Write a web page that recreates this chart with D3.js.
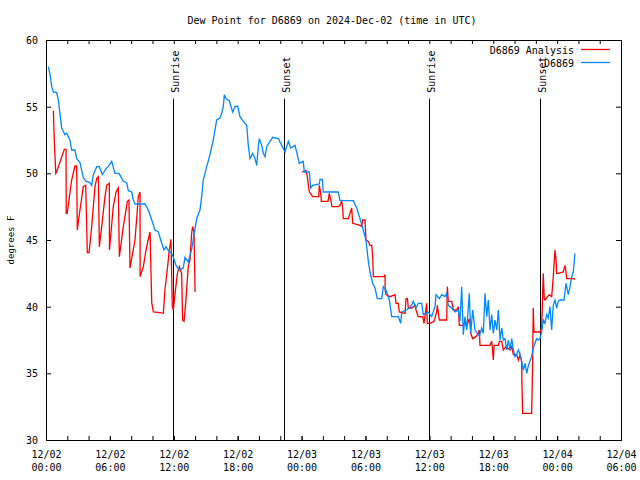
<!DOCTYPE html>
<html><head><meta charset="utf-8">
<script src="https://cdn.jsdelivr.net/npm/d3@7"></script>
<style>
html,body{margin:0;padding:0;background:#fff;}
text{font-family:"DejaVu Sans Mono",monospace;font-size:10px;fill:#000;}
</style></head>
<body><svg id="c" width="640" height="480"></svg>
<script>
// ---- data (hours since 2024-12-02 00:00 UTC) ----
const blueHours = [0.22,0.38,0.54,0.69,1.00,1.16,1.31,1.47,1.78,1.94,2.25,2.41,2.72,2.88,3.19,3.50,3.76,4.13,4.29,4.44,4.76,5.01,5.29,5.70,5.85,6.17,6.48,6.86,7.26,7.58,7.73,8.05,8.20,8.36,9.30,9.61,9.93,10.24,10.55,10.77,11.08,11.27,11.58,11.80,11.96,12.21,12.52,12.89,13.05,13.36,13.68,13.90,14.15,14.46,14.62,14.77,15.09,15.40,15.71,15.87,16.03,16.34,16.50,16.65,16.75,16.90,17.21,17.53,17.75,18.00,18.22,18.53,18.85,19.00,19.16,19.41,19.63,19.79,19.94,20.03,20.26,20.41,20.57,20.73,21.04,21.29,21.82,22.14,22.45,22.76,22.98,23.38,23.54,23.79,24.16,24.26,24.73,24.86,25.05,25.67,25.73,25.95,26.04,27.45,27.61,28.86,29.18,29.49,29.80,30.05,30.27,30.43,30.68,30.90,31.11,31.53,31.68,31.93,32.24,32.47,33.09,33.31,33.41,33.88,34.34,34.49,34.75,34.96,35.28,35.43,35.90,36.22,36.53,36.63,36.94,37.16,37.47,37.63,37.78,38.10,38.41,38.72,38.88,39.04,39.19,39.35,39.51,39.75,39.89,40.07,40.29,40.51,40.69,40.92,41.07,41.23,41.39,41.54,41.70,41.86,42.01,42.17,42.33,42.48,42.64,42.80,42.95,43.11,43.27,43.42,43.58,43.74,43.89,44.05,44.20,44.36,44.52,44.67,44.83,44.99,45.15,45.30,45.45,45.61,45.76,45.92,46.08,46.23,46.39,46.55,46.70,46.86,47.02,47.17,47.33,47.49,47.64,47.80,47.96,48.11,48.27,48.65,48.84,49.05,49.21,49.37,49.52,49.68];
const blueValues = [58.0,57.4,56.5,56.1,56.05,55.5,54.5,53.4,52.9,53.0,52.5,51.75,51.75,51.1,50.8,49.7,49.4,49.3,49.1,49.9,50.5,50.5,49.9,50.4,50.5,50.9,50.0,50.0,49.4,49.3,48.7,48.6,48.0,47.7,47.7,47.25,46.5,45.75,45.6,45.0,44.25,44.5,44.1,44.0,43.7,43.1,42.75,42.9,43.7,43.35,44.3,45.4,46.6,47.25,48.25,49.5,50.5,51.4,52.5,53.25,54.0,54.15,54.5,55.0,55.9,55.6,55.45,54.6,55.0,55.05,54.25,53.9,53.6,52.1,51.1,51.5,51.1,50.6,52.0,52.6,52.1,51.5,51.25,52.0,52.4,52.7,52.6,52.1,51.6,52.4,51.9,52.1,51.6,50.75,50.9,50.1,50.1,48.9,49.1,49.2,49.55,49.55,48.6,48.6,47.95,47.95,47.4,46.6,45.75,45.0,43.4,42.6,41.75,41.4,40.6,40.6,41.5,41.25,40.5,39.25,39.25,38.75,39.6,39.75,40.1,40.4,39.9,40.25,40.25,39.4,39.6,39.25,40.0,40.9,40.6,40.9,40.75,41.0,40.1,39.9,39.6,39.75,38.9,41.5,37.9,39.25,38.25,41.0,38.0,39.75,38.25,38.0,37.75,38.4,38.0,41.0,39.25,40.5,38.25,39.4,38.0,39.0,38.25,39.75,37.5,38.4,37.5,37.6,36.75,37.5,36.75,37.6,36.75,36.25,36.4,36.75,36.4,35.9,35.25,35.75,35.0,35.6,35.9,36.25,36.9,37.25,37.6,37.5,37.6,38.1,39.0,38.75,39.4,39.15,40.0,38.25,40.1,40.5,39.9,40.4,40.5,40.5,41.75,40.9,41.5,42.25,42.6,44.0];

const redHours = [0.69,0.79,0.92,1.00,1.72,1.84,1.88,1.90,1.99,2.41,2.72,2.88,2.94,3.19,3.50,3.73,3.88,4.04,4.29,4.60,4.76,4.92,5.01,5.23,5.54,5.70,5.95,5.96,6.32,6.58,6.79,6.89,7.26,7.64,7.79,7.89,8.36,8.67,8.83,8.84,9.14,9.45,9.77,9.93,10.08,10.70,11.02,11.17,11.42,11.58,11.74,11.86,11.96,12.12,12.34,12.52,12.74,12.83,12.96,13.12,13.36,13.52,13.68,13.77,13.90,14.00,
  19.0,
  24.04,24.42,24.54,24.73,25.05,25.61,25.67,25.80,25.86,26.48,26.61,26.77,26.86,27.45,27.61,27.77,27.86,27.92,28.39,28.71,28.80,29.49,29.65,29.74,29.96,30.05,30.27,30.43,30.59,30.68,30.74,31.74,31.84,31.85,31.93,32.31,32.78,32.87,33.09,33.18,33.72,33.81,33.94,34.03,34.34,34.66,34.75,34.96,35.38,35.50,35.59,35.75,35.81,36.07,36.44,36.69,36.75,36.94,37.63,37.69,37.78,38.10,38.26,38.57,38.72,38.82,39.19,39.35,39.51,39.75,39.82,39.89,40.07,40.38,40.60,40.69,40.76,41.70,41.86,41.95,42.01,42.08,42.48,42.58,42.80,42.95,43.20,43.58,43.74,43.89,44.20,44.36,44.52,44.67,44.70,44.77,45.61,45.70,45.76,45.83,46.39,46.55,46.70,46.79,46.86,47.11,47.27,47.49,47.64,47.80,47.90,47.96,48.11,48.58,48.74,48.84,48.90,49.21,49.52,49.68];
const redValues = [54.7,52.25,50.0,50.1,51.8,51.8,51.8,47.0,47.0,49.5,50.55,50.55,45.75,47.25,49.0,49.1,44.05,44.05,46.0,49.0,49.6,49.75,44.5,46.0,48.25,49.1,49.25,44.25,47.5,48.6,48.9,43.75,46.0,47.9,48.0,42.9,45.0,48.25,48.6,42.25,43.0,44.5,45.6,40.3,39.6,39.55,39.5,41.25,43.0,44.25,45.05,40.0,39.75,41.0,42.5,43.0,42.5,39.0,38.9,40.25,43.0,43.5,45.5,46.0,45.6,41.1,
  null,
  50.1,50.2,49.75,48.6,48.25,48.25,49.1,48.5,47.9,47.9,48.5,47.9,47.5,47.5,47.6,47.9,47.4,46.6,46.6,47.4,46.25,46.1,46.0,46.5,46.5,45.0,44.9,44.6,44.6,43.75,42.25,42.25,42.4,41.25,40.9,40.75,40.9,40.25,40.25,39.6,39.5,40.6,40.6,39.9,39.9,40.1,39.75,39.25,39.25,38.75,39.25,40.25,38.75,38.75,38.9,39.6,40.1,39.0,39.0,41.5,40.4,40.4,39.75,39.75,40.0,38.6,38.6,38.9,38.5,39.1,38.75,38.0,37.6,37.75,38.0,38.25,37.1,37.1,37.4,36.6,36.0,37.1,37.1,37.4,37.4,36.75,37.0,36.75,37.0,36.4,36.4,36.0,36.4,35.9,34.1,32.0,32.0,35.75,39.9,38.1,38.1,38.4,42.5,40.6,40.5,40.75,40.9,40.75,42.25,44.25,43.5,42.5,42.5,42.6,43.1,42.6,42.1,42.1,42.1,42.05];

const eventHours = [11.95, 22.38, 36.0, 46.42];
const eventLabels = ["Sunrise", "Sunset", "Sunrise", "Sunset"];
const eventTop = 55.6;

const xTickHours = [0, 6, 12, 18, 24, 30, 36, 42, 48, 54];
const xTickDates = ["12/02","12/02","12/02","12/02","12/03","12/03","12/03","12/03","12/04","12/04"];
const xTickTimes = ["00:00","06:00","12:00","18:00","00:00","06:00","12:00","18:00","00:00","06:00"];
const xMinorHours = d3.range(0, 55, 2);
const yTicks = [30, 35, 40, 45, 50, 55, 60];

const seriesNames = ["D6869 Analysis", "D6869"];
const seriesColors = ["#ff0000", "#0088ff"];
const titleText = "Dew Point for D6869 on 2024-Dec-02 (time in UTC)";
const yLabelText = "degrees F";

// ---- layout ----
const L = 46, R = 621, T = 40, B = 440;
const svg = d3.select("#c");
const x = d3.scaleLinear().domain([0, 54]).range([L, R]);
const y = d3.scaleLinear().domain([30, 60]).range([B, T]);

svg.append("text").attr("x", 332).attr("y", 24).attr("text-anchor", "middle").text(titleText);
svg.append("text").attr("transform", "translate(14,240) rotate(-90)")
  .attr("text-anchor", "middle").style("font-size", "9px").text(yLabelText);

function cleanAxis(g){ g.select(".domain").remove(); g.selectAll("line").attr("stroke","#000"); }

// bottom minor/major ticks
svg.append("g").attr("transform", `translate(0,${B})`)
  .call(d3.axisBottom(x).tickValues(xMinorHours).tickSize(-4).tickFormat(""))
  .call(cleanAxis);
svg.append("g").attr("transform", `translate(0,${T})`)
  .call(d3.axisTop(x).tickValues(xMinorHours).tickSize(-4).tickFormat(""))
  .call(cleanAxis);
// bottom labels
const xa = svg.append("g").attr("transform", `translate(0,${B})`)
  .call(d3.axisBottom(x).tickValues(xTickHours).tickSize(-4).tickPadding(0).tickFormat(""))
  .call(cleanAxis);
xa.selectAll(".tick").each(function(d, i){
  const t = d3.select(this).select("text").attr("fill", "#000").attr("y", 0).attr("dy", null)
    .style("font-family", "DejaVu Sans Mono").style("font-size", "10px");
  t.append("tspan").attr("x", 0).attr("y", 18).text(xTickDates[i]);
  t.append("tspan").attr("x", 0).attr("y", 31).text(xTickTimes[i]);
});

// y axes
svg.append("g").attr("transform", `translate(${L},0)`)
  .call(d3.axisLeft(y).tickValues(yTicks).tickSize(-5).tickPadding(8).tickFormat(d3.format("d")))
  .call(cleanAxis)
  .call(g => g.selectAll("text").attr("fill","#000").attr("dy","0.35em")
    .style("font-family","DejaVu Sans Mono").style("font-size","10px"));
svg.append("g").attr("transform", `translate(${R},0)`)
  .call(d3.axisRight(y).tickValues(yTicks).tickSize(-5).tickFormat(""))
  .call(cleanAxis);

// frame
svg.append("rect").attr("x", L + 0.5).attr("y", T + 0.5).attr("width", R - L).attr("height", B - T)
  .attr("fill", "none").attr("stroke", "#000");

// sunrise / sunset
eventHours.forEach((h, i) => {
  const xe = Math.round(x(h)) + 0.5;
  svg.append("line").attr("x1", xe).attr("x2", xe).attr("y1", y(eventTop)).attr("y2", B)
    .attr("stroke", "#000").attr("stroke-width", 1);
  svg.append("text").attr("transform", `translate(${xe + 5.5},${y(eventTop) - 6}) rotate(-90)`)
    .attr("text-anchor", "start").text(eventLabels[i]);
});

// series
const line = d3.line().defined(d => d[1] != null).x(d => x(d[0])).y(d => y(d[1]));
const redData = redHours.map((h, i) => [h, redValues[i]]);
const blueData = blueHours.map((h, i) => [h, blueValues[i]]);
svg.append("path").datum(redData).attr("d", line).attr("fill", "none")
  .attr("stroke", seriesColors[0]).attr("stroke-width", 1.3).attr("stroke-linejoin", "miter");
svg.append("path").datum(blueData).attr("d", line).attr("fill", "none")
  .attr("stroke", seriesColors[1]).attr("stroke-width", 1.3).attr("stroke-linejoin", "miter");

// legend
const legY = [50, 63];
seriesNames.forEach((n, i) => {
  svg.append("text").attr("x", 574).attr("y", legY[i]).attr("dy", "0.35em")
    .attr("text-anchor", "end").text(n);
  svg.append("line").attr("x1", 581).attr("x2", 610).attr("y1", legY[i] - 0.5).attr("y2", legY[i] - 0.5)
    .attr("stroke", seriesColors[i]).attr("stroke-width", 1.3);
});
</script></body></html>
